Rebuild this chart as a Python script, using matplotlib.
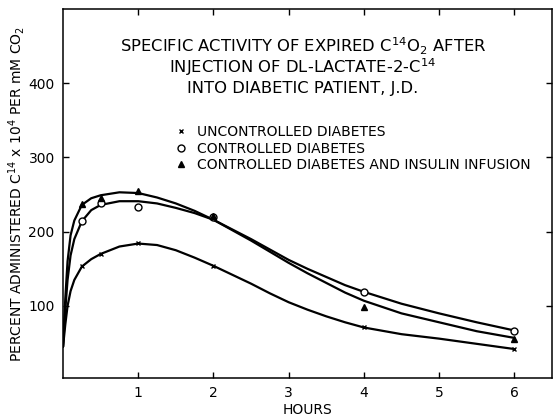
import matplotlib
matplotlib.use("Agg")
import matplotlib.pyplot as plt
from matplotlib.lines import Line2D

plt.rcParams['font.family'] = ['DejaVu Sans']
plt.rcParams['mathtext.default'] = 'regular'

# Observed points (hours, value)
pt_hours = [0.25, 0.5, 1, 2, 4, 6]
uncontrolled_pts = [154, 170, 185, 154, 72, 42]
controlled_pts = [214, 239, 233, 220, 119, 66]
insulin_pts = [237, 245, 255, 221, 99, 56]

# Hand-drawn smooth curves
curve_hours = [0, 0.03, 0.06, 0.1, 0.15, 0.25, 0.375, 0.5, 0.75, 1.0, 1.25, 1.5,
               1.75, 2.0, 2.25, 2.5, 2.75, 3.0, 3.25, 3.5, 3.75, 4.0, 4.5, 5.0, 5.5, 6.0]
insulin_curve = [45, 110, 160, 195, 215, 236, 245, 249, 253, 252, 246, 238,
                 228, 216, 202, 188, 173, 158, 144, 131, 118, 107, 90, 78, 66, 57]
controlled_curve = [45, 95, 135, 168, 190, 214, 229, 236, 241, 241, 238, 232,
                    225, 216, 203, 190, 176, 162, 150, 139, 128, 119, 103, 90, 78, 67]
uncontrolled_curve = [45, 75, 100, 120, 135, 153, 163, 170, 180, 184, 182, 175,
                      165, 154, 142, 130, 117, 105, 95, 86, 78, 71, 62, 56, 49, 42]

x_ticks = [1, 2, 3, 4, 5, 6]
y_ticks = [100, 200, 300, 400]

title_lines = ["SPECIFIC ACTIVITY OF EXPIRED C$^{14}$O$_2$ AFTER",
               "INJECTION OF DL-LACTATE-2-C$^{14}$",
               "INTO DIABETIC PATIENT, J.D."]
legend_labels = ["UNCONTROLLED DIABETES", "CONTROLLED DIABETES",
                 "CONTROLLED DIABETES AND INSULIN INFUSION"]

W, H = 553, 420
fig = plt.figure(figsize=(W / 100, H / 100), dpi=100)
ax = fig.add_axes([0.114, 0.1, 0.884, 0.879])

lw = 1.6
ax.plot(curve_hours, insulin_curve, color='black', lw=lw, solid_capstyle='round')
ax.plot(curve_hours, controlled_curve, color='black', lw=lw, solid_capstyle='round')
ax.plot(curve_hours, uncontrolled_curve, color='black', lw=lw, solid_capstyle='round')

ax.plot(pt_hours, uncontrolled_pts, 'x', color='black', ms=3.5, mew=1.0)
ax.plot(pt_hours, controlled_pts, 'o', mfc='white', mec='black', ms=5, mew=1.0)
ax.plot(pt_hours, insulin_pts, '^', color='black', ms=5)

ax.set_xlim(0, 6.5)
ax.set_ylim(3, 500)
ax.set_xticks(x_ticks)
ax.set_yticks(y_ticks)
ax.tick_params(direction='in', length=4, width=1, top=True, right=True,
               labelsize=10, pad=6)
for s in ax.spines.values():
    s.set_linewidth(1.1)

ax.set_xlabel("HOURS", fontsize=10, labelpad=2)
ax.set_ylabel("PERCENT ADMINISTERED C$^{14}$ x 10$^{4}$ PER mM CO$_2$",
              fontsize=10, labelpad=1)

baselines_px = [52, 73, 93]
for line, yb in zip(title_lines, baselines_px):
    fig.text(303 / W, 1 - yb / H, line, ha='center', va='baseline', fontsize=11.8)

handles = [
    Line2D([], [], ls='none', marker='x', color='black', ms=3.5, mew=1.0),
    Line2D([], [], ls='none', marker='o', mfc='white', mec='black', ms=5, mew=1.0),
    Line2D([], [], ls='none', marker='^', color='black', ms=5),
]
ax.legend(handles, legend_labels, loc='upper left',
          bbox_to_anchor=(0.318, 0.703), bbox_transform=fig.transFigure,
          frameon=False, fontsize=10, handlelength=0.8, handletextpad=0.7,
          labelspacing=0.2, borderpad=0, borderaxespad=0)

fig.savefig("out.png", dpi=100)
